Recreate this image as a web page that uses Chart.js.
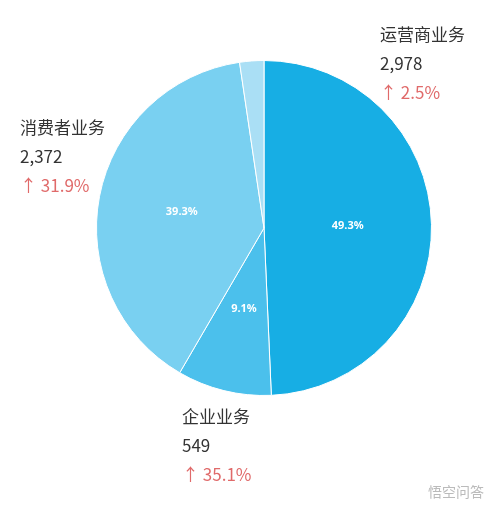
<!DOCTYPE html>
<html><head><meta charset="utf-8">
<script src="https://cdn.jsdelivr.net/npm/chart.js@4"></script>
<style>
body{margin:0;background:#fff;font-family:"Noto Sans CJK SC","Noto Sans",sans-serif}
#wrap{position:relative;width:496px;height:507px}
.lbl{position:absolute;font-size:17px;color:#333;line-height:29px}
.lbl .g{color:#E06A6A}
#wm{position:absolute;right:12px;bottom:6px;font-size:14px;color:#bbb}
</style></head><body>
<div id="wrap"><canvas id="c" width="496" height="507"></canvas><div id="wm">悟空问答</div></div>
<script>
const categories=["运营商业务","企业业务","消费者业务","其他"];
const values=[2978,549,2372,141];
const percents=["49.3%","9.1%","39.3%",""];
const growth=["2.5%","35.1%","31.9%",""];
const valueLabels=["2,978","549","2,372",""];
const colors=["#17AEE4","#4BC0EC","#79D0F1","#AADFF5"];
const labelPos=[[380,19],[182,401],[20,112]];
labelPos.forEach((p,i)=>{
  const d=document.createElement('div');d.className='lbl';
  d.style.left=p[0]+'px';d.style.top=p[1]+'px';
  d.innerHTML=categories[i]+'<br>'+valueLabels[i]+'<br><span class="g">↑ '+growth[i]+'</span>';
  document.getElementById('wrap').appendChild(d);
});
const inner={id:'inner',afterDatasetsDraw(ch){
  const ctx=ch.ctx;ctx.save();ctx.fillStyle='#fff';ctx.font='bold 11px "Noto Sans",sans-serif';
  ctx.textAlign='center';ctx.textBaseline='middle';
  ch.getDatasetMeta(0).data.forEach((a,i)=>{if(!percents[i])return;const p=a.tooltipPosition();ctx.fillText(percents[i],p.x,p.y);});
  ctx.restore();}};
new Chart(document.getElementById('c'),{type:'pie',
data:{labels:categories,datasets:[{data:values,backgroundColor:colors,borderColor:'#fff',borderWidth:1}]},
options:{responsive:false,animation:false,layout:{padding:{left:96,right:64,top:60,bottom:111}},
plugins:{legend:{display:false},tooltip:{enabled:false}}},plugins:[inner]});
</script></body></html>
